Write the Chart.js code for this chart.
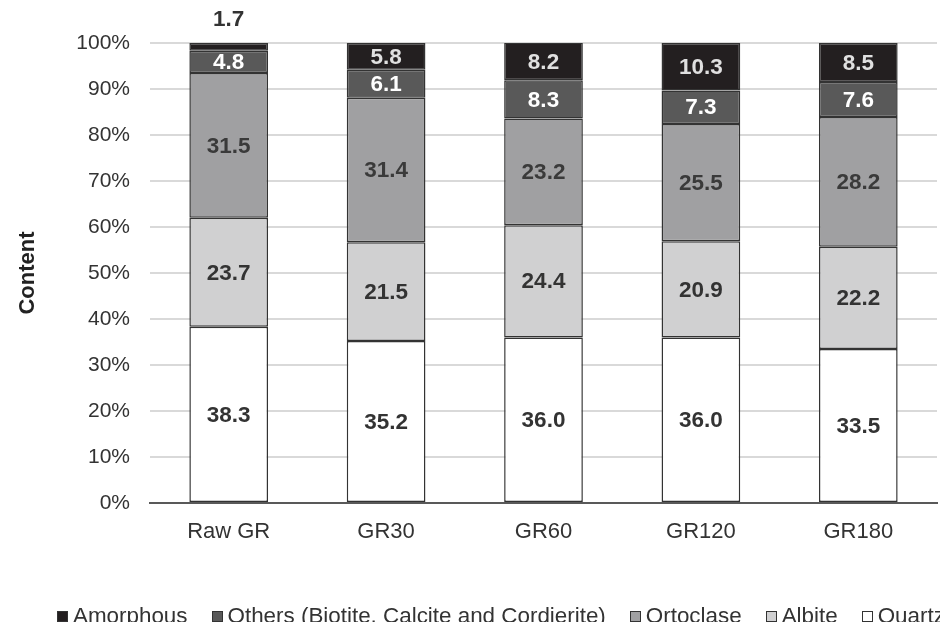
<!DOCTYPE html>
<html>
<head>
<meta charset="utf-8">
<script src="https://cdn.jsdelivr.net/npm/chart.js@4/dist/chart.umd.min.js"></script>
<style>
  html, body { margin: 0; padding: 0; background: #fff; }
  #wrap { position: relative; width: 940px; height: 622px; overflow: hidden; }
  #c { position: absolute; left: 0; top: 0; }
  #legend { position: absolute; left: 57px; top: 603px; white-space: nowrap;
            font-family: "Liberation Sans", Arial, sans-serif; font-size: 22.4px; line-height: 26px; color: #333; }
  #legend span.item { display: inline-block; margin-right: 24px; }
  #legend span.box { display: inline-block; width: 9px; height: 9px; border: 1px solid #333;
                     margin-right: 5px; vertical-align: 1px; }
</style>
</head>
<body>
<div id="wrap">
  <canvas id="c" width="940" height="622"></canvas>
  <div id="legend"></div>
</div>
<script>
const categories = ["Raw GR", "GR30", "GR60", "GR120", "GR180"];
const quartz    = [38.3, 35.2, 36.0, 36.0, 33.5];
const albite    = [23.7, 21.5, 24.4, 20.9, 22.2];
const ortoclase = [31.5, 31.4, 23.2, 25.5, 28.2];
const others    = [4.8, 6.1, 8.3, 7.3, 7.6];
const amorphous = [1.7, 5.8, 8.2, 10.3, 8.5];

const seriesNames = ["Quartz", "Albite", "Ortoclase", "Others (Biotite, Calcite and Cordierite)", "Amorphous"];
const seriesData = [quartz, albite, ortoclase, others, amorphous];
const fillColors = ["#ffffff", "#d0d0d1", "#a0a0a2", "#595959", "#231f20"];
const labelColors = ["#333333", "#333333", "#3a3a3a", "#ffffff", "#e0e0e0"];
const font = '"Liberation Sans", Arial, sans-serif';

const datasets = seriesNames.map((n, i) => ({
  label: n,
  data: seriesData[i],
  backgroundColor: fillColors[i],
  borderColor: "#333333",
  borderWidth: 1.5,
  borderSkipped: false,
  categoryPercentage: 1.0,
  barPercentage: 0.5
}));

const labelPlugin = {
  id: "valueLabels",
  afterDatasetsDraw(chart) {
    const ctx = chart.ctx;
    ctx.save();
    ctx.font = "bold 22.5px " + font;
    ctx.textAlign = "center";
    ctx.textBaseline = "middle";
    chart.data.datasets.forEach((ds, di) => {
      const meta = chart.getDatasetMeta(di);
      meta.data.forEach((el, j) => {
        const v = ds.data[j];
        const top = el.y, base = el.base;
        const h = Math.abs(base - top);
        let y = (top + base) / 2;
        let col = labelColors[di];
        if (h < 16) { y = Math.min(top, base) - 24; col = "#333333"; }
        ctx.fillStyle = col;
        ctx.fillText(v.toFixed(1), el.x, y + 1);
      });
    });
    ctx.restore();
  }
};

new Chart(document.getElementById("c"), {
  type: "bar",
  data: { labels: categories, datasets },
  options: {
    responsive: false,
    animation: false,
    layout: { padding: { left: 0, right: 3, top: 43, bottom: 59 } },
    plugins: { legend: { display: false }, tooltip: { enabled: false } },
    scales: {
      x: {
        stacked: true,
        grid: { display: false, drawTicks: false },
        border: { display: true, color: "#595959", width: 2 },
        ticks: { color: "#333", font: { family: font, size: 22 }, padding: 16 },
        afterFit: s => { s.height = 60; }
      },
      y: {
        stacked: true,
        min: 0, max: 100,
        grid: { color: "#d9d9d9", lineWidth: 2, drawTicks: false },
        border: { display: false },
        ticks: { stepSize: 10, color: "#333", font: { family: font, size: 21 }, padding: 20,
                 callback: v => v + "%" },
        title: { display: true, text: "Content", color: "#222",
                 font: { family: font, size: 22, weight: "bold" }, padding: { top: 15, bottom: 4 } },
        afterFit: s => { s.width = 150; }
      }
    }
  },
  plugins: [labelPlugin]
});

const legend = document.getElementById("legend");
for (let i = seriesNames.length - 1; i >= 0; i--) {
  const item = document.createElement("span");
  item.className = "item";
  const box = document.createElement("span");
  box.className = "box";
  box.style.background = fillColors[i];
  item.appendChild(box);
  item.appendChild(document.createTextNode(seriesNames[i]));
  legend.appendChild(item);
}
</script>
</body>
</html>
